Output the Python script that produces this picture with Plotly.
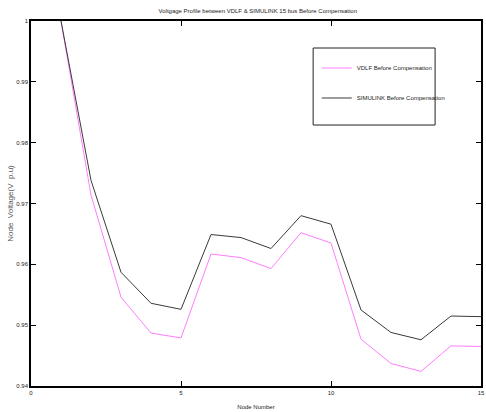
import plotly.graph_objects as go

nodes = list(range(1, 16))
vdlf = [1.0, 0.9714, 0.9546, 0.9487, 0.9479, 0.9617, 0.9611, 0.9593, 0.9652, 0.9635,
        0.9477, 0.9437, 0.9424, 0.9466, 0.9465]
simulink = [1.0, 0.9738, 0.9587, 0.9536, 0.9526, 0.9649, 0.9644, 0.9626, 0.9680, 0.9666,
            0.9525, 0.9488, 0.9476, 0.9515, 0.9514]

x_ticks = [0, 5, 10, 15]
y_ticks = [0.94, 0.95, 0.96, 0.97, 0.98, 0.99, 1.0]
y_ticktext = ["0.94", "0.95", "0.96", "0.97", "0.98", "0.99", "1"]

FONT = "Liberation Sans, Arial"

fig = go.Figure()
fig.add_trace(go.Scatter(x=nodes, y=vdlf, mode="lines", name="VDLF Before Compensation",
                         line=dict(color="#ff7dff", width=1), legendgroup="a"))
fig.add_trace(go.Scatter(x=nodes, y=simulink, mode="lines", name="SIMULINK Before Compensation",
                         line=dict(color="#3a3a3a", width=1), legendgroup="b"))

axis_common = dict(showline=True, linecolor="black", linewidth=1.5, mirror="ticks",
                   ticks="inside", ticklen=5, tickcolor="black", tickwidth=1,
                   showgrid=False, zeroline=False, ticklabeloverflow="allow",
                   tickfont=dict(family=FONT, size=6, color="#222"))

fig.update_layout(
    width=486, height=412,
    margin=dict(l=31, r=1, t=21, b=26),
    paper_bgcolor="white", plot_bgcolor="white",
    title=dict(text="Voltgage Profile between VDLF & SIMULINK 15 bus Before Compensation",
               x=0.5305, xanchor="center", y=0.974, yanchor="middle",
               font=dict(family=FONT, size=6, color="#222")),
    xaxis=dict(range=[0, 15], tickvals=x_ticks, title=dict(text="Node Number", standoff=10,
               font=dict(family=FONT, size=6, color="#222")), **axis_common),
    yaxis=dict(range=[0.94, 1.0], tickvals=y_ticks, ticktext=y_ticktext,
               title=dict(text="Node  Voltage(V  p.u)", standoff=2,
                          font=dict(family=FONT, size=8, color="#555")),
               **axis_common),
    showlegend=True,
    legend=dict(x=0.635, y=0.911, xanchor="left", yanchor="top",
                bgcolor="rgba(0,0,0,0)", borderwidth=0,
                traceorder="grouped", tracegroupgap=11,
                font=dict(family=FONT, size=6, color="#222")),
    shapes=[dict(type="rect", xref="paper", yref="paper",
                 x0=0.627, x1=0.898, y0=0.715, y1=0.926,
                 line=dict(color="#222", width=1), fillcolor="rgba(0,0,0,0)")],
)

fig.write_html("out.html")
